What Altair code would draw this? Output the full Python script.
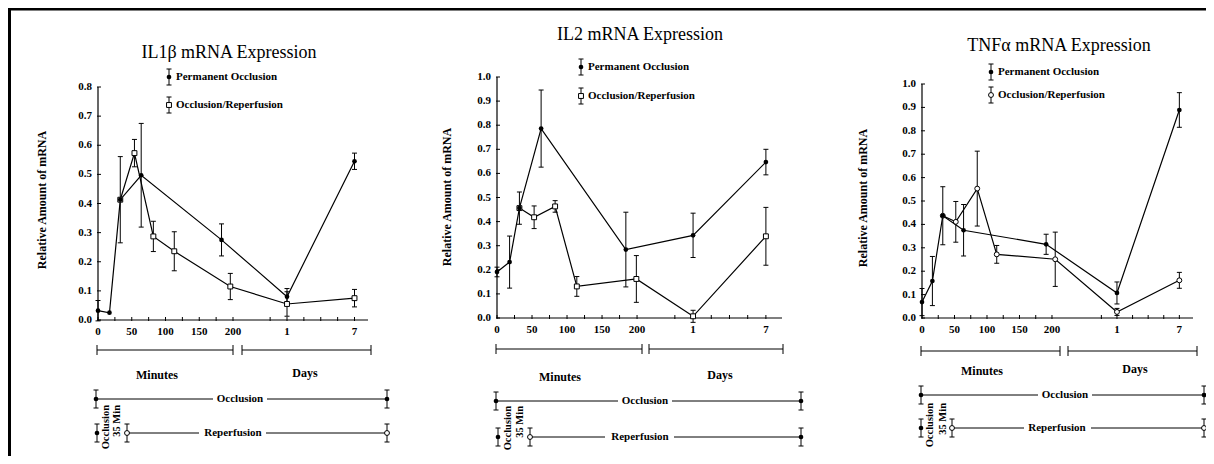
import altair as alt
import pandas as pd

# ---------------- values ----------------
# first five points are in minutes, the last two in days
time_unit = ["min", "min", "min", "min", "min", "day", "day"]

il1b_perm_time = [0, 17, 33, 64, 183, 1, 7]
il1b_perm_mean = [0.032, 0.025, 0.413, 0.497, 0.275, 0.080, 0.545]
il1b_perm_sem = [0.035, 0.000, 0.148, 0.178, 0.055, 0.028, 0.028]
il1b_rep_time = [33, 54, 82, 113, 196, 1, 7]
il1b_rep_mean = [0.413, 0.573, 0.287, 0.236, 0.115, 0.055, 0.075]
il1b_rep_sem = [0.000, 0.047, 0.052, 0.067, 0.045, 0.042, 0.030]

il2_perm_time = [0, 18, 32, 63, 184, 1, 7]
il2_perm_mean = [0.191, 0.232, 0.456, 0.786, 0.284, 0.343, 0.647]
il2_perm_sem = [0.020, 0.108, 0.067, 0.160, 0.155, 0.092, 0.053]
il2_rep_time = [32, 53, 83, 114, 199, 1, 7]
il2_rep_mean = [0.456, 0.418, 0.463, 0.131, 0.162, 0.007, 0.339]
il2_rep_sem = [0.000, 0.047, 0.024, 0.041, 0.097, 0.025, 0.120]

tnf_perm_time = [0, 16, 32, 64, 191, 1, 7]
tnf_perm_mean = [0.068, 0.158, 0.437, 0.375, 0.315, 0.107, 0.889]
tnf_perm_sem = [0.058, 0.105, 0.124, 0.110, 0.043, 0.047, 0.074]
tnf_rep_time = [32, 52, 85, 115, 205, 1, 7]
tnf_rep_mean = [0.437, 0.411, 0.553, 0.272, 0.251, 0.026, 0.161]
tnf_rep_sem = [0.000, 0.087, 0.160, 0.038, 0.116, 0.015, 0.034]

titles = ["IL1\u03b2  mRNA Expression", "IL2  mRNA Expression", "TNF\u03b1  mRNA Expression"]
legend_labels = ["Permanent Occlusion", "Occlusion/Reperfusion"]
y_title = "Relative Amount of mRNA"
minute_tick_labels = [0, 50, 100, 150, 200]
day_tick_labels = [1, 7]
y_max = [0.8, 1.0, 1.0]

# ---------------- layout (image pixel coordinates) ----------------
W, H = 1198, 448
FONT = "Liberation Serif"


def px(v):
    return v - 8


LAYOUT = [
    dict(x0=98, x1=368, xend=400, yb=320, yt=87, day={1: 280, 7: 380}, step=25,
         title_xy=(229, 53), ytitle=(42, 200), legend=dict(x=169, y1=77, y2=105, tx=176),
         rep_shape="square", bracket=dict(y=350, a=(97, 233), b=(242, 371)),
         minutes=(157, 375), days=(305, 373),
         occl=dict(y=399, segs=[(96, 213), (267, 387)], bars=[96, 387], tx=240),
         rep=dict(y=433, segs=[(127, 199), (266, 387)], bars=[97, 127, 387], tx=233, end_filled=False),
         vert=dict(x1=106, x2=117, top=405)),
    dict(x0=497, x1=782, xend=407, yb=318, yt=77, day={1: 280, 7: 384}, step=26,
         title_xy=(640, 35), ytitle=(447, 197), legend=dict(x=581, y1=67, y2=96, tx=588),
         rep_shape="square", bracket=dict(y=349, a=(496, 642), b=(649, 783)),
         minutes=(560, 377), days=(720, 375),
         occl=dict(y=401, segs=[(496, 618), (672, 801)], bars=[496, 801], tx=645),
         rep=dict(y=437, segs=[(530, 605), (674, 801)], bars=[498, 530, 801], tx=640, end_filled=True),
         vert=dict(x1=508, x2=520, top=406)),
    dict(x0=922, x1=1193, xend=417, yb=318, yt=84, day={1: 300, 7: 396}, step=24,
         title_xy=(1059, 46), ytitle=(863, 198), legend=dict(x=991, y1=72, y2=95, tx=998),
         rep_shape="circle", bracket=dict(y=351, a=(921, 1060), b=(1068, 1197)),
         minutes=(982, 371), days=(1135, 369),
         occl=dict(y=395, segs=[(921, 1038), (1092, 1204)], bars=[921, 1204], tx=1065),
         rep=dict(y=428, segs=[(952, 1024), (1091, 1204)], bars=[921, 952, 1204], tx=1057, end_filled=False),
         vert=dict(x1=930, x2=943, top=403)),
]


def panel_df(series_list, L):
    rows = []
    for name, ts, ms, ss in series_list:
        for t, u, m, s in zip(ts, time_unit, ms, ss):
            pos = t if u == "min" else L["day"][t]
            rows.append(dict(series=name, pos=pos, mean=m, sem=s, lo=m - s, hi=m + s))
    return pd.DataFrame(rows)


def panel(df, L, ymax):
    xs = alt.Scale(domain=[0, L["xend"]], range=[px(L["x0"]), px(L["x1"])], nice=False, zero=False)
    ys = alt.Scale(domain=[0, ymax], range=[px(L["yb"]), px(L["yt"])], nice=False, zero=False)
    d1, d7, s = L["day"][1], L["day"][7], L["step"]

    def X(f="pos"):
        return alt.X(f + ":Q", scale=xs, axis=None)

    def Y(f):
        return alt.Y(f + ":Q", scale=ys, axis=None)

    # axis pieces, drawn through the panel's own scales
    minor = [p for p in range(0, 201, 25)] + [d1 + k * s for k in range(-1, 5)]
    xt = pd.DataFrame(dict(pos=minor, zero=0.0))
    xl = pd.DataFrame(dict(pos=minute_tick_labels + [L["day"][d] for d in day_tick_labels],
                           lab=[str(v) for v in minute_tick_labels] + [str(d) for d in day_tick_labels],
                           zero=0.0))
    n = int(round(ymax * 10))
    yv = [round(i / 10, 1) for i in range(n + 1)]
    yt = pd.DataFrame(dict(v=yv, lab=[f"{v:.1f}" for v in yv], zero=0.0))
    dom = pd.DataFrame(dict(a=[0.0], b=[float(L["xend"])], c=[0.0], d=[ymax]))

    x_line = alt.Chart(dom).mark_rule(color="black", strokeWidth=1.2).encode(
        x=X("a"), x2="b:Q", y=Y("c"))
    y_line = alt.Chart(dom).mark_rule(color="black", strokeWidth=1.2).encode(
        x=X("c"), y=Y("c"), y2="d:Q")
    x_ticks = alt.Chart(xt).mark_tick(orient="vertical", color="black", size=4, thickness=1,
                                      opacity=1, yOffset=-1).encode(x=X("pos"), y=Y("zero"))
    x_labs = alt.Chart(xl).mark_text(font=FONT, fontSize=11, fontWeight="bold", baseline="middle",
                                     dy=12, color="black").encode(x=X("pos"), y=Y("zero"), text="lab:N")
    y_ticks = alt.Chart(yt).mark_tick(orient="horizontal", color="black", size=4, thickness=1,
                                      opacity=1, xOffset=1).encode(x=X("zero"), y=Y("v"))
    y_labs = alt.Chart(yt).mark_text(font=FONT, fontSize=11, fontWeight="bold", baseline="middle",
                                     align="right", dx=-6, color="black").encode(
        x=X("zero"), y=Y("v"), text="lab:N")

    base = alt.Chart(df)
    perm = base.transform_filter("datum.series == 'perm'")
    rep = base.transform_filter("datum.series == 'rep'")
    witherr = base.transform_filter("datum.sem > 0")

    perm_line = perm.mark_line(color="black", strokeWidth=1.2).encode(x=X(), y=Y("mean"), order="pos:Q")
    rep_line = rep.mark_line(color="black", strokeWidth=1.2).encode(x=X(), y=Y("mean"), order="pos:Q")
    err = witherr.mark_rule(color="black", strokeWidth=1).encode(x=X(), y=Y("lo"), y2="hi:Q")
    cap_lo = witherr.mark_tick(orient="horizontal", color="black", size=5, thickness=1, opacity=1).encode(
        x=X(), y=Y("lo"))
    cap_hi = witherr.mark_tick(orient="horizontal", color="black", size=5, thickness=1, opacity=1).encode(
        x=X(), y=Y("hi"))
    rep_pts = rep.mark_point(shape=L["rep_shape"], filled=True, fill="white", stroke="black",
                             strokeWidth=1, size=24, opacity=1).encode(x=X(), y=Y("mean"))
    perm_pts = perm.mark_circle(size=22, color="black", opacity=1).encode(x=X(), y=Y("mean"))
    return alt.layer(x_line, y_line, x_ticks, x_labs, y_ticks, y_labs,
                     perm_line, rep_line, err, cap_lo, cap_hi, rep_pts, perm_pts)


# ---------------- annotation geometry ----------------
segs, dots, open_c, open_s = [], [], [], []
t_title, t_legend, t_unit, t_line, t_vert, t_ytitle = [], [], [], [], [], []


def hseg(a, b, y):
    segs.append(dict(x=px(a), x2=px(b), y=px(y), y2=px(y)))


def vseg(x, a, b):
    segs.append(dict(x=px(x), x2=px(x), y=px(a), y2=px(b)))


def ibar(x, y, h, w=2.5):
    vseg(x, y - h, y + h)
    hseg(x - w, x + w, y - h)
    hseg(x - w, x + w, y + h)


def pt(lst, x, y):
    lst.append(dict(x=px(x), y=px(y)))


for i, L in enumerate(LAYOUT):
    t_title.append(dict(x=px(L["title_xy"][0]), y=px(L["title_xy"][1]), t=titles[i]))
    t_ytitle.append(dict(x=px(L["ytitle"][0]), y=px(L["ytitle"][1]), t=y_title))
    lg = L["legend"]
    ibar(lg["x"], lg["y1"], 8)
    ibar(lg["x"], lg["y2"], 8)
    pt(dots, lg["x"], lg["y1"])
    pt(open_s if L["rep_shape"] == "square" else open_c, lg["x"], lg["y2"])
    t_legend.append(dict(x=px(lg["tx"]), y=px(lg["y1"]), t=legend_labels[0]))
    t_legend.append(dict(x=px(lg["tx"]), y=px(lg["y2"]), t=legend_labels[1]))

    b = L["bracket"]
    for (a, c) in (b["a"], b["b"]):
        hseg(a, c, b["y"])
        vseg(a, b["y"] - 5, b["y"] + 5)
        vseg(c, b["y"] - 5, b["y"] + 5)
    t_unit.append(dict(x=px(L["minutes"][0]), y=px(L["minutes"][1]), t="Minutes"))
    t_unit.append(dict(x=px(L["days"][0]), y=px(L["days"][1]), t="Days"))

    o = L["occl"]
    for a, c in o["segs"]:
        hseg(a, c, o["y"])
    for xb in o["bars"]:
        ibar(xb, o["y"], 9)
        pt(dots, xb, o["y"])
    t_line.append(dict(x=px(o["tx"]), y=px(o["y"]), t="Occlusion"))

    r = L["rep"]
    for a, c in r["segs"]:
        hseg(a, c, r["y"])
    for k, xb in enumerate(r["bars"]):
        ibar(xb, r["y"], 9)
        last = k == len(r["bars"]) - 1
        if k == 0 or (last and r["end_filled"]):
            pt(dots, xb, r["y"])
        else:
            pt(open_c, xb, r["y"])
    t_line.append(dict(x=px(r["tx"]), y=px(r["y"]), t="Reperfusion"))

    v = L["vert"]
    t_vert.append(dict(x=px(v["x1"]), y=px(v["top"]), t="Occlusion"))
    t_vert.append(dict(x=px(v["x2"]), y=px(v["top"]), t="35 Min"))

frame = pd.DataFrame([dict(x=0, x2=W, y=1, y2=1), dict(x=1.5, x2=1.5, y=0, y2=H)])

AX = dict(scale=None, axis=None)


def rules(df, sw):
    return alt.Chart(df).mark_rule(color="black", strokeWidth=sw).encode(
        x=alt.X("x:Q", **AX), x2="x2:Q", y=alt.Y("y:Q", **AX), y2="y2:Q")


def texts(rows, size, weight, align="center", angle=0):
    return alt.Chart(pd.DataFrame(rows)).mark_text(
        font=FONT, fontSize=size, fontWeight=weight, align=align, baseline="middle",
        angle=angle, color="black").encode(
        x=alt.X("x:Q", **AX), y=alt.Y("y:Q", **AX), text="t:N")


def pts(rows, kind):
    c = alt.Chart(pd.DataFrame(rows))
    if kind == "dot":
        m = c.mark_circle(size=22, color="black", opacity=1)
    else:
        m = c.mark_point(shape=kind, filled=True, fill="white", stroke="black",
                         strokeWidth=1, size=24, opacity=1)
    return m.encode(x=alt.X("x:Q", **AX), y=alt.Y("y:Q", **AX))


ann = alt.layer(
    rules(frame, 3),
    rules(pd.DataFrame(segs), 1),
    pts(dots, "dot"), pts(open_c, "circle"), pts(open_s, "square"),
    texts(t_title, 18, "normal"),
    texts(t_ytitle, 12, "bold", angle=270),
    texts(t_legend, 11, "bold", align="left"),
    texts(t_unit, 12, "bold"),
    texts(t_line, 11, "bold"),
    texts(t_vert, 10.5, "bold", align="right", angle=270),
)

p1 = panel(panel_df([("perm", il1b_perm_time, il1b_perm_mean, il1b_perm_sem),
                     ("rep", il1b_rep_time, il1b_rep_mean, il1b_rep_sem)], LAYOUT[0]), LAYOUT[0], y_max[0])
p2 = panel(panel_df([("perm", il2_perm_time, il2_perm_mean, il2_perm_sem),
                     ("rep", il2_rep_time, il2_rep_mean, il2_rep_sem)], LAYOUT[1]), LAYOUT[1], y_max[1])
p3 = panel(panel_df([("perm", tnf_perm_time, tnf_perm_mean, tnf_perm_sem),
                     ("rep", tnf_rep_time, tnf_rep_mean, tnf_rep_sem)], LAYOUT[2]), LAYOUT[2], y_max[2])

chart = (
    alt.layer(p1, p2, p3, ann)
    .resolve_scale(x="independent", y="independent")
    .properties(width=W, height=H, padding=0, autosize=alt.AutoSizeParams(type="none"),
                background="white")
    .configure_view(stroke=None)
)

chart.save("out.html", embed_options={"renderer": "svg", "actions": False})
